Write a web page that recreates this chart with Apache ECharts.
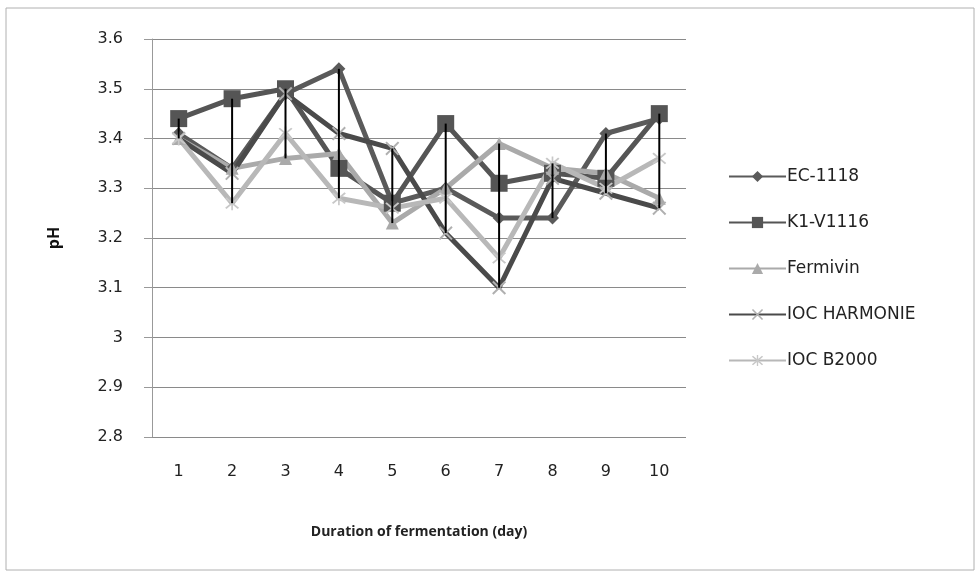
<!DOCTYPE html>
<html>
<head>
<meta charset="utf-8">
<script src="https://cdn.jsdelivr.net/npm/echarts@6/dist/echarts.min.js"></script>
<style>
  html, body { margin: 0; padding: 0; background: #fff; }
  #chart { width: 980px; height: 577px; }
</style>
</head>
<body>
<div id="chart"></div>
<script>
// days on x axis
var days = ['1', '2', '3', '4', '5', '6', '7', '8', '9', '10'];
var yTicks = { min: 2.8, max: 3.6, step: 0.1 };

// pH
var ec1118    = [3.41, 3.34, 3.49, 3.54, 3.27, 3.30, 3.24, 3.24, 3.41, 3.44];
var k1v1116   = [3.44, 3.48, 3.50, 3.34, 3.27, 3.43, 3.31, 3.33, 3.32, 3.45];
var fermivin  = [3.40, 3.34, 3.36, 3.37, 3.23, 3.30, 3.39, 3.34, 3.33, 3.28];
var harmonie  = [3.40, 3.33, 3.49, 3.41, 3.38, 3.21, 3.10, 3.32, 3.29, 3.26];
var b2000     = [3.40, 3.27, 3.41, 3.28, 3.26, 3.28, 3.16, 3.35, 3.30, 3.36];

var names = ['EC-1118', 'K1-V1116', 'Fermivin', 'IOC HARMONIE', 'IOC B2000'];

var chart = echarts.init(document.getElementById('chart'));

var xMark = 'path://M0,1L1,0L5,4L9,0L10,1L6,5L10,9L9,10L5,6L1,10L0,9L4,5Z';
var starMark = 'path://M0,1L1,0L5,4L9,0L10,1L6,5L10,9L9,10L5,6L1,10L0,9L4,5Z M4.4,-1L5.6,-1L5.6,11L4.4,11Z';

function lineSeries(name, data, color, symbol, size, symColor) {
    return {
        name: name,
        type: 'line',
        data: data,
        symbol: symbol,
        symbolSize: size,
        showSymbol: true,
        lineStyle: { color: color, width: 5 },
        itemStyle: { color: symColor || color },
        z: 3
    };
}

// high-low lines: min and max per day
var allSeries = [ec1118, k1v1116, fermivin, harmonie, b2000];
var hiLo = days.map(function(d, i) {
    var vals = allSeries.map(function(s) { return s[i]; });
    return [i, Math.min.apply(null, vals), Math.max.apply(null, vals)];
});

var font = '"DejaVu Sans", sans-serif';
var titleFont = '"Open Sans", "Liberation Sans", sans-serif';

var option = {
    backgroundColor: '#fff',
    animation: false,
    graphic: [{
        type: 'rect',
        shape: { x: 6, y: 8, width: 968, height: 562 },
        style: { fill: 'none', stroke: '#b0b0b0', lineWidth: 1 },
        silent: true
    }],
    grid: { left: 152, top: 39, width: 534, height: 398, containLabel: false },
    legend: {
        orient: 'vertical',
        left: 723,
        top: 163,
        itemWidth: 57,
        itemHeight: 14,
        itemGap: 29,
        data: names,
        textStyle: { fontFamily: font, fontSize: 17, color: '#222', padding: [0, 0, 0, -4] }
    },
    xAxis: {
        type: 'category',
        data: days,
        boundaryGap: true,
        axisLine: { show: false },
        axisTick: { show: false },
        axisLabel: { margin: 27, fontFamily: font, fontSize: 16, color: '#222' },
        name: 'Duration of fermentation (day)',
        nameLocation: 'middle',
        nameGap: 88,
        nameTextStyle: { fontFamily: titleFont, fontSize: 14, fontWeight: 'bold', color: '#222' }
    },
    yAxis: {
        type: 'value',
        min: yTicks.min,
        max: yTicks.max,
        interval: yTicks.step,
        axisLine: { show: true, lineStyle: { color: '#999' } },
        axisTick: { show: true, length: 8, lineStyle: { color: '#999' } },
        axisLabel: {
            margin: 29,
            fontFamily: font, fontSize: 16, color: '#222',
            formatter: function(v) { return String(parseFloat(v.toFixed(1))); }
        },
        splitLine: { show: true, lineStyle: { color: '#8a8a8a', width: 1 } },
        name: 'pH',
        nameLocation: 'middle',
        nameGap: 90,
        nameTextStyle: { fontFamily: titleFont, fontSize: 16, fontWeight: 'bold', color: '#111' }
    },
    series: [
        lineSeries('EC-1118', ec1118, '#5a5a5a', 'diamond', 13),
        lineSeries('K1-V1116', k1v1116, '#555555', 'rect', 17),
        lineSeries('Fermivin', fermivin, '#aaaaaa', 'triangle', 13),
        lineSeries('IOC HARMONIE', harmonie, '#4a4a4a', xMark, 14, '#b0b0b0'),
        lineSeries('IOC B2000', b2000, '#b8b8b8', starMark, 14, '#c8c8c8'),
        {
            name: 'hilo',
            type: 'custom',
            data: hiLo,
            z: 10,
            silent: true,
            renderItem: function(params, api) {
                var p1 = api.coord([api.value(0), api.value(1)]);
                var p2 = api.coord([api.value(0), api.value(2)]);
                return {
                    type: 'line',
                    shape: { x1: p1[0], y1: p1[1], x2: p2[0], y2: p2[1] },
                    style: { stroke: '#000', lineWidth: 2 }
                };
            }
        }
    ]
};

chart.setOption(option);
</script>
</body>
</html>
